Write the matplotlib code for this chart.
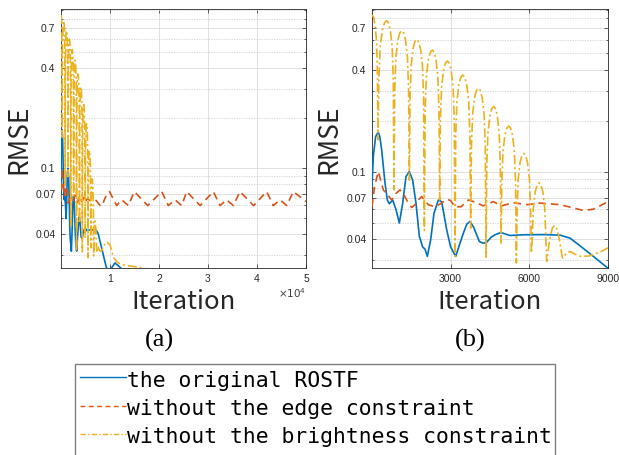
import matplotlib
matplotlib.use('Agg')
import matplotlib.pyplot as plt
from matplotlib.ticker import FixedLocator, NullFormatter, FixedFormatter
from matplotlib.lines import Line2D
from matplotlib.patches import Rectangle

# ---------------- data ----------------
blue_iter = [0, 50, 140, 240, 300, 370, 496, 585, 662, 790, 917, 1044, 1171, 1298,
             1426, 1553, 1680, 1808, 1935, 2024, 2113, 2240, 2368, 2533, 2660, 2852,
             3000, 3195, 3340, 3488, 3620, 3743, 3880, 4099, 4250, 4379, 4550, 4697,
             4914, 5270, 5780, 6543, 7180, 7562, 7943, 8453, 9000, 9500, 10300, 11000,
             11700, 12500, 13500, 20000, 50000]
blue_rmse = [0.082, 0.123, 0.161, 0.171, 0.160, 0.134, 0.0857, 0.068, 0.0646, 0.068,
             0.0597, 0.0497, 0.065, 0.0935, 0.100, 0.089, 0.065, 0.0415, 0.0359, 0.0349,
             0.0316, 0.0396, 0.0568, 0.068, 0.0664, 0.0454, 0.036, 0.0316, 0.037, 0.0433,
             0.049, 0.0508, 0.047, 0.0387, 0.0378, 0.0383, 0.041, 0.0424, 0.0437, 0.0420,
             0.0424, 0.0425, 0.0422, 0.0405, 0.0365, 0.0316, 0.0270, 0.0238, 0.025,
             0.0268, 0.0258, 0.0245, 0.0235, 0.022, 0.020]

red_iter = [0, 100, 241, 431, 622, 752, 900, 1069, 1200, 1387, 1515, 1650, 1769, 1897,
            2150, 2405, 2661, 2852, 3000, 3169, 3400, 3677, 3950, 4250, 4632, 4952,
            5396, 5906, 6414, 7178, 7624, 8068, 8450, 9022, 9900, 11360, 12380, 13740,
            14970, 17700, 20550, 21900, 23270, 24630, 25650, 28400, 31090, 32450, 33810,
            35170, 36530, 39300, 41970, 43330, 44700, 46060, 47410, 50000]
red_rmse = [0.0622, 0.082, 0.100, 0.078, 0.072, 0.068, 0.074, 0.078, 0.074, 0.0652,
            0.0614, 0.064, 0.068, 0.0712, 0.0638, 0.062, 0.0652, 0.0687, 0.0675, 0.062,
            0.062, 0.068, 0.066, 0.0628, 0.0665, 0.0628, 0.0656, 0.0638, 0.0652, 0.0638,
            0.0614, 0.0590, 0.0600, 0.0665, 0.0723, 0.0595, 0.0645, 0.0595, 0.0723,
            0.0595, 0.0723, 0.0595, 0.0645, 0.0595, 0.0723, 0.0595, 0.0723, 0.0595,
            0.0645, 0.0595, 0.0723, 0.0595, 0.0723, 0.0595, 0.0645, 0.0595, 0.0723, 0.063]

yellow_iter = [0, 58, 115, 173, 207, 230,
               263, 312, 395, 478, 560, 630, 700, 770, 812, 840,
               869, 913, 987, 1060, 1133, 1206, 1280, 1353, 1397, 1426,
               1454, 1496, 1566, 1636, 1706, 1779, 1852, 1926, 1970, 1999,
               2030, 2075, 2152, 2228, 2304, 2374, 2444, 2514, 2556, 2584,
               2613, 2657, 2730, 2804, 2877, 2950, 3023, 3097, 3141, 3170,
               3199, 3243, 3316, 3390, 3463, 3539, 3615, 3692, 3737, 3768,
               3797, 3841, 3914, 3988, 4061, 4134, 4207, 4281, 4325, 4354,
               4383, 4427, 4500, 4573, 4646, 4716, 4786, 4857, 4899, 4927,
               4956, 5000, 5073, 5146, 5219, 5292, 5365, 5439, 5483, 5512,
               5540, 5582, 5652, 5722, 5792, 5865, 5938, 6012, 6056, 6085,
               6114, 6158, 6231, 6305, 6378, 6451, 6524, 6598, 6642, 6671,
               6700, 6744, 6817, 6890, 6963, 7043, 7122, 7202, 7250, 7282,
               7420, 7562, 7760, 7970, 8300, 8700, 9000, 9400, 10000, 10700,
               11500, 13000, 15000, 16500, 20000, 50000]
yellow_rmse = [0.84, 0.815, 0.74, 0.59, 0.38, 0.154,
               0.349, 0.543, 0.683, 0.753, 0.776, 0.753, 0.683, 0.543, 0.349, 0.078,
               0.305, 0.475, 0.597, 0.658, 0.678, 0.658, 0.597, 0.475, 0.305, 0.089,
               0.271, 0.421, 0.530, 0.584, 0.602, 0.584, 0.530, 0.421, 0.271, 0.045,
               0.234, 0.365, 0.458, 0.505, 0.521, 0.505, 0.458, 0.365, 0.234, 0.068,
               0.202, 0.314, 0.395, 0.436, 0.449, 0.436, 0.395, 0.314, 0.202, 0.0316,
               0.167, 0.260, 0.326, 0.360, 0.371, 0.360, 0.326, 0.260, 0.167, 0.0464,
               0.140, 0.217, 0.273, 0.301, 0.310, 0.301, 0.273, 0.217, 0.140, 0.0313,
               0.109, 0.169, 0.213, 0.235, 0.242, 0.235, 0.213, 0.169, 0.109, 0.0379,
               0.084, 0.130, 0.164, 0.180, 0.186, 0.180, 0.164, 0.130, 0.084, 0.0289,
               0.058, 0.090, 0.113, 0.124, 0.128, 0.124, 0.113, 0.090, 0.058, 0.0331,
               0.039, 0.060, 0.076, 0.083, 0.086, 0.083, 0.076, 0.060, 0.039, 0.0296,
               0.032, 0.036, 0.0422, 0.0466, 0.048, 0.0466, 0.0422, 0.036, 0.032, 0.0309,
               0.0330, 0.0338, 0.0325, 0.0316, 0.0318, 0.0335, 0.0354, 0.0358, 0.0345, 0.029,
               0.027, 0.026, 0.0255, 0.025, 0.024, 0.022]

ytick_vals = [0.04, 0.07, 0.1, 0.4, 0.7]
ytick_labels = ['0.04', '0.07', '0.1', '0.4', '0.7']
yminor_vals = [0.03, 0.05, 0.06, 0.08, 0.09, 0.2, 0.3, 0.5, 0.6, 0.8, 0.9]
xticks_a = [10000, 20000, 30000, 40000, 50000]
xtick_labels_a = ['1', '2', '3', '4', '5']
xticks_b = [3000, 6000, 9000]
xtick_labels_b = ['3000', '6000', '9000']
legend_labels = ['the original ROSTF', 'without the edge constraint',
                 'without the brightness constraint']

BLUE, RED, YELLOW = '#0072BD', '#D95319', '#EDB120'
DARK = '#262626'
JP = ['Noto Sans CJK JP', 'DejaVu Sans']

W, H = 619, 455
fig = plt.figure(figsize=(W / 100, H / 100), dpi=100)


def fx(px):
    return px / W


def fy(py):
    return 1 - py / H


ax1 = fig.add_axes([fx(61), fy(268), (306 - 61) / W, (268 - 9.3) / H])
ax2 = fig.add_axes([fx(372), fy(268), (607.7 - 372) / W, (268 - 9.3) / H])

for ax, ylim, xlim, xt, xtl in [(ax1, (0.025, 0.91), (0, 50000), xticks_a, xtick_labels_a),
                                (ax2, (0.027, 0.906), (0, 9000), xticks_b, xtick_labels_b)]:
    ax.plot(blue_iter, blue_rmse, color=BLUE, lw=1.2, ls='-', zorder=3)
    ax.plot(red_iter, red_rmse, color=RED, lw=1.2, dashes=(4.5, 3.0), zorder=4)
    ax.plot(yellow_iter, yellow_rmse, color=YELLOW, lw=1.2,
            dashes=(5.5, 1.8, 1.2, 1.8), zorder=5)
    ax.set_yscale('log')
    ax.set_ylim(*ylim)
    ax.set_xlim(*xlim)
    ax.yaxis.set_major_locator(FixedLocator(ytick_vals))
    ax.yaxis.set_major_formatter(FixedFormatter(ytick_labels))
    ax.yaxis.set_minor_locator(FixedLocator(yminor_vals))
    ax.yaxis.set_minor_formatter(NullFormatter())
    ax.set_xticks(xt)
    ax.set_xticklabels(xtl)
    ax.grid(True, which='major', color='#dcdcdc', lw=0.6, ls='-', zorder=0)
    ax.grid(True, which='minor', axis='y', color='#d0d0d0', lw=0.6, ls=(0, (1.5, 1.5)), zorder=0)
    ax.tick_params(which='both', direction='in', top=True, right=True, colors=DARK,
                   labelsize=7.5, width=0.5)
    ax.tick_params(which='major', length=3)
    ax.tick_params(which='minor', length=1.6)
    ax.tick_params(axis='y', pad=4)
    ax.tick_params(axis='x', pad=4)
    for lab in ax.get_xticklabels() + ax.get_yticklabels():
        lab.set_family(['Liberation Sans', 'DejaVu Sans'])
    for s in ax.spines.values():
        s.set_color(DARK)
        s.set_linewidth(0.6)
    ax.set_axisbelow(True)

# axis labels
for x in (19, 329):
    fig.text(fx(x), fy(139), 'RMSE', rotation=90, ha='center', va='center',
             fontsize=19, family=JP, color=DARK)
for x in (183.5, 490):
    fig.text(fx(x), fy(302), 'Iteration', ha='center', va='center',
             fontsize=18.5, family=JP, color=DARK)
fig.text(fx(306), fy(298), r'$\times10^{4}$', ha='right', va='baseline',
         fontsize=7.5, color='#404040')

# subfigure captions
fig.text(fx(159), fy(340), '(a)', ha='center', va='center', fontsize=19,
         family=['Liberation Serif', 'DejaVu Serif'])
fig.text(fx(470), fy(340), '(b)', ha='center', va='center', fontsize=19,
         family=['Liberation Serif', 'DejaVu Serif'])

# legend box (bottom is cut by the figure edge, as in the reference)
fig.patches.append(Rectangle((fx(75), fy(480)), (555 - 75) / W, (480 - 364) / H,
                             transform=fig.transFigure, facecolor='white',
                             edgecolor='#7f7f7f', lw=1.0, zorder=1))
styles = [dict(color=BLUE, ls='-'), dict(color=RED, dashes=(3.5, 2.5)),
          dict(color=YELLOW, dashes=(4.0, 1.5, 1.0, 1.5))]
line_y = [377.3, 405.7, 434.0]
text_y = [386.7, 415.0, 442.7]
for lab, st, ly, ty in zip(legend_labels, styles, line_y, text_y):
    fig.lines.append(Line2D([fx(80), fx(126)], [fy(ly), fy(ly)], transform=fig.transFigure,
                            lw=1.0, zorder=2, **st))
    fig.text(fx(127), fy(ty), lab, ha='left', va='baseline', fontsize=15.4,
             family=['DejaVu Sans Mono', 'DejaVu Sans'], color='black', zorder=3)

fig.savefig('out.png', dpi=100, facecolor='white')
